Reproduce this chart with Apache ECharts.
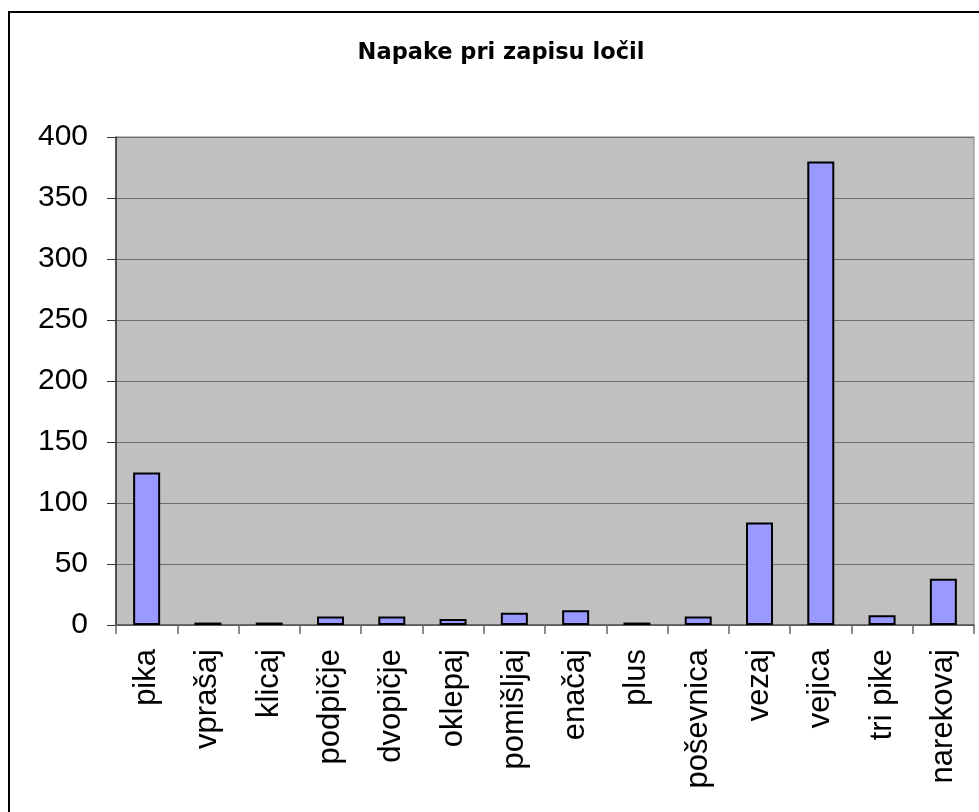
<!DOCTYPE html>
<html>
<head>
<meta charset="utf-8">
<script src="https://cdn.jsdelivr.net/npm/echarts@6/dist/echarts.min.js"></script>
<style>
  html, body { margin: 0; padding: 0; background: #ffffff; }
  #chart { width: 979px; height: 812px; }
</style>
</head>
<body>
<div id="chart"></div>
<script>
// Punctuation error counts per mark
const categories = ['pika', 'vprašaj', 'klicaj', 'podpičje', 'dvopičje', 'oklepaj', 'pomišljaj',
  'enačaj', 'plus', 'poševnica', 'vezaj', 'vejica', 'tri pike', 'narekovaj'];
const errorCounts = [125, 2, 2, 7, 7, 5, 10, 12, 2, 7, 84, 380, 8, 38];
const yTicks = [0, 50, 100, 150, 200, 250, 300, 350, 400];

const FONT = '"Liberation Sans", Arial, sans-serif';
const chart = echarts.init(document.getElementById('chart'), null, { renderer: 'canvas' });

chart.setOption({
  animation: false,
  backgroundColor: '#ffffff',
  title: {
    text: 'Napake pri zapisu ločil',
    left: 496,
    top: 37,
    textAlign: 'center',
    textStyle: { fontFamily: '"DejaVu Sans", sans-serif', fontSize: 22.5, fontWeight: 'bold', color: '#000000' }
  },
  graphic: [{
    type: 'rect',
    z: -1,
    shape: { x: 9, y: 12, width: 1000, height: 900 },
    style: { fill: 'none', stroke: '#000000', lineWidth: 2 }
  }],
  grid: {
    left: 116, right: 5, top: 137, bottom: 187,
    show: true,
    backgroundColor: '#c0c0c0',
    borderColor: '#808080',
    borderWidth: 1,
    outerBoundsMode: 'none'
  },
  xAxis: {
    type: 'category',
    data: categories,
    boundaryGap: true,
    axisLine: { show: true, lineStyle: { color: '#555555', width: 1.5 } },
    axisTick: { show: true, alignWithLabel: false, length: 9, lineStyle: { color: '#666666', width: 1.5 } },
    axisLabel: {
      rotate: 90, margin: 24, interval: 0,
      fontFamily: FONT, fontSize: 31, color: '#000000'
    },
    splitLine: { show: false }
  },
  yAxis: {
    type: 'value',
    min: yTicks[0],
    max: yTicks[yTicks.length - 1],
    interval: yTicks[1] - yTicks[0],
    axisLine: { show: true, lineStyle: { color: '#333333', width: 1.5 } },
    axisTick: { show: true, length: 9, lineStyle: { color: '#333333', width: 1 } },
    axisLabel: { margin: 28, fontFamily: FONT, fontSize: 30, color: '#000000' },
    splitLine: { show: true, lineStyle: { color: '#6e6e6e', width: 1 } }
  },
  series: [{
    type: 'bar',
    data: errorCounts,
    barWidth: 27,
    itemStyle: { color: '#9999ff', borderColor: '#000000', borderWidth: 2 }
  }]
});
</script>
</body>
</html>
